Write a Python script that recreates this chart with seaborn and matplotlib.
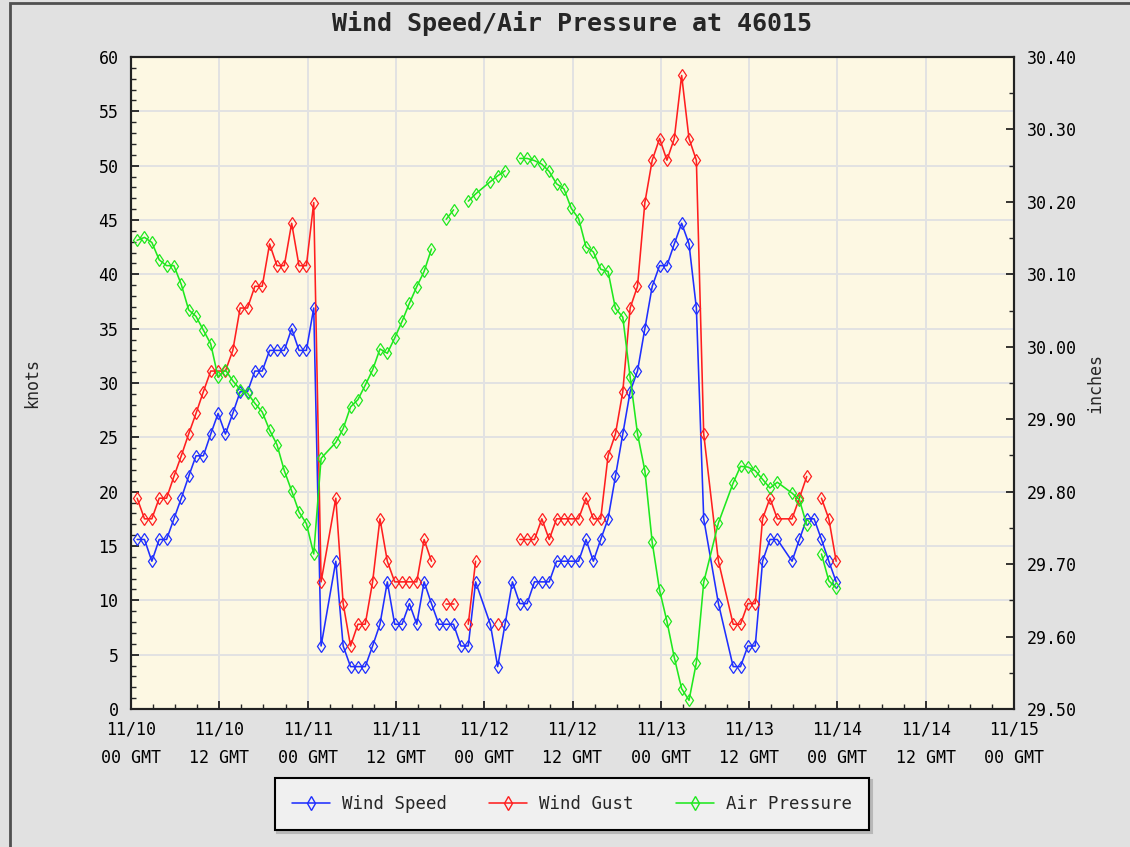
import numpy as np
import pandas as pd
import matplotlib
matplotlib.use("Agg")
import matplotlib.pyplot as plt
from matplotlib.ticker import MultipleLocator
from matplotlib.lines import Line2D
from matplotlib.patches import Rectangle
import seaborn as sns

NA = np.nan

# hourly obs from 11/10 00:50 GMT; rows that are NA in every column were never reported
wind_speed = [
    15.6, 15.6, 13.6, 15.6, 15.6, 17.5, 19.4, 21.4, 23.3, 23.3,
    25.3, 27.2, 25.3, 27.2, 29.2, 29.2, 31.1, 31.1, 33.0, 33.0,
    33.0, 35.0, 33.0, 33.0, 36.9, 5.8, NA, 13.6, 5.8, 3.9,
    3.9, 3.9, 5.8, 7.8, 11.7, 7.8, 7.8, 9.7, 7.8, 11.7,
    9.7, 7.8, 7.8, 7.8, 5.8, 5.8, 11.7, NA, 7.8, 3.9,
    7.8, 11.7, 9.7, 9.7, 11.7, 11.7, 11.7, 13.6, 13.6, 13.6,
    13.6, 15.6, 13.6, 15.6, 17.5, 21.4, 25.3, 29.2, 31.1, 35.0,
    38.9, 40.8, 40.8, 42.8, 44.7, 42.8, 36.9, 17.5, NA, 9.7,
    NA, 3.9, 3.9, 5.8, 5.8, 13.6, 15.6, 15.6, NA, 13.6,
    15.6, 17.5, 17.5, 15.6, 13.6, 11.7,
]
wind_gust = [
    19.4, 17.5, 17.5, 19.4, 19.4, 21.4, 23.3, 25.3, 27.2, 29.2,
    31.1, 31.1, 31.1, 33.0, 36.9, 36.9, 38.9, 38.9, 42.8, 40.8,
    40.8, 44.7, 40.8, 40.8, 46.6, 11.7, NA, 19.4, 9.7, 5.8,
    7.8, 7.8, 11.7, 17.5, 13.6, 11.7, 11.7, 11.7, 11.7, 15.6,
    13.6, NA, 9.7, 9.7, NA, 7.8, 13.6, NA, NA, 7.8,
    NA, NA, 15.6, 15.6, 15.6, 17.5, 15.6, 17.5, 17.5, 17.5,
    17.5, 19.4, 17.5, 17.5, 23.3, 25.3, 29.2, 36.9, 38.9, 46.6,
    50.5, 52.5, 50.5, 52.5, 58.3, 52.5, 50.5, 25.3, NA, 13.6,
    NA, 7.8, 7.8, 9.7, 9.7, 17.5, 19.4, 17.5, NA, 17.5,
    19.4, 21.4, NA, 19.4, 17.5, 13.6,
]
air_pressure = [
    30.147, 30.151, 30.144, 30.120, 30.112, 30.112, 30.086, 30.051, 30.042, 30.023,
    30.004, 29.958, 29.968, 29.953, 29.941, 29.936, 29.922, 29.910, 29.885, 29.865,
    29.829, 29.801, 29.772, 29.756, 29.714, 29.846, NA, 29.868, 29.887, 29.917,
    29.927, 29.947, 29.968, 29.997, 29.991, 30.012, 30.035, 30.060, 30.083, 30.104,
    30.135, NA, 30.176, 30.189, NA, 30.201, 30.211, NA, 30.228, 30.236,
    30.243, NA, 30.260, 30.260, 30.257, 30.252, 30.242, 30.225, 30.218, 30.191,
    30.177, 30.138, 30.131, 30.107, 30.104, 30.053, 30.041, 29.958, 29.880, 29.829,
    29.730, 29.664, 29.621, 29.571, 29.528, 29.512, 29.564, 29.675, NA, 29.757,
    NA, 29.812, 29.835, 29.834, 29.829, 29.817, 29.805, 29.813, NA, 29.798,
    29.789, 29.754, NA, 29.714, 29.677, 29.667,
]
tick_labels = ["11/10\n00 GMT", "11/10\n12 GMT", "11/11\n00 GMT", "11/11\n12 GMT",
               "11/12\n00 GMT", "11/12\n12 GMT", "11/13\n00 GMT", "11/13\n12 GMT",
               "11/14\n00 GMT", "11/14\n12 GMT", "11/15\n00 GMT"]

BLUE, RED, GREEN = "#1f2fff", "#ff1f1f", "#1fe81f"
FONT = "DejaVu Sans Mono"

df = pd.DataFrame({"hour": np.arange(len(wind_speed)) + 50 / 60,
                   "Wind Speed": wind_speed, "Wind Gust": wind_gust,
                   "Air Pressure": air_pressure})
df = df.dropna(how="all", subset=["Wind Speed", "Wind Gust", "Air Pressure"])

sns.set_style("white")
plt.rcParams["font.family"] = [FONT, "DejaVu Sans"]

W, H = 1130, 847
fig = plt.figure(figsize=(W / 100, H / 100), dpi=100)
fig.patch.set_facecolor("#e1e1e1")
fig.patches.append(Rectangle((10 / W, -0.01), 1.0, 1 - 3 / H + 0.01, transform=fig.transFigure,
                             fill=False, edgecolor="#505050", lw=2))

ax = fig.add_axes([131 / W, 1 - 709 / H, 883 / W, 652 / H])
ax.set_facecolor("#fdf8e3")
ax2 = ax.twinx()


def draw(axis, col, color):
    s = df[["hour", col]].copy()
    s["seg"] = s[col].isna().cumsum()  # break the line where a value is missing
    s = s.dropna()
    sns.lineplot(data=s, x="hour", y=col, units="seg", estimator=None, color=color,
                 lw=1.15, marker="d", ms=6, mfc="none", mec=color, mew=0.9,
                 legend=False, ax=axis)


draw(ax, "Wind Speed", BLUE)
draw(ax, "Wind Gust", RED)
draw(ax2, "Air Pressure", GREEN)

ax.set_xlim(0, 120)
ax.set_ylim(0, 60)
ax2.set_ylim(29.5, 30.4)

ax.set_xticks(np.arange(0, 121, 12))
ax.set_xticklabels(tick_labels, linespacing=1.75)
ax.xaxis.set_minor_locator(MultipleLocator(3))
ax.yaxis.set_major_locator(MultipleLocator(5))
ax.yaxis.set_minor_locator(MultipleLocator(1))
ax2.yaxis.set_major_locator(MultipleLocator(0.1))
ax2.yaxis.set_minor_locator(MultipleLocator(0.05))
ax2.set_yticklabels([f"{v:.2f}" for v in ax2.get_yticks()])

ax.grid(True, which="major", color="#e2e2e2", lw=1.4)
ax.set_axisbelow(True)

for a in (ax, ax2):
    a.tick_params(which="major", direction="in", length=5.5, width=1.1, labelsize=12,
                  colors="black", pad=9)
    a.tick_params(which="minor", direction="in", length=3.5, width=1.0)
    for sp in a.spines.values():
        sp.set_color("#222222")
        sp.set_linewidth(1.5)
ax.tick_params(axis="x", pad=8.5)
ax.tick_params(axis="y", left=True, which="both")
ax.tick_params(axis="x", bottom=True, which="both")
ax2.tick_params(axis="y", right=True, which="both")

ax.set_xlabel("")
ax.set_ylabel("knots", fontsize=12)
ax2.set_ylabel("inches", fontsize=12)
ax.yaxis.set_label_coords(-90 / 883, 0.5)
ax2.yaxis.set_label_coords(1 + 72 / 883, 0.5)

fig.text(572 / W, 1 - 24 / H, "Wind Speed/Air Pressure at 46015", ha="center", va="center",
         fontsize=18, fontweight="bold")

handles = [Line2D([], [], color=c, lw=1.15, marker="d", ms=7, mfc="none", mec=c)
           for c in (BLUE, RED, GREEN)]
leg = fig.legend(handles, ["Wind Speed", "Wind Gust", "Air Pressure"], ncol=3,
                 loc="center", bbox_to_anchor=(572 / W, 1 - 804 / H), fontsize=12.5,
                 frameon=True, fancybox=False, shadow={"color": "#b8b8b8", "alpha": 1},
                 borderpad=1.0, columnspacing=2.4, handlelength=2.2, handletextpad=0.7)
leg.get_frame().set_facecolor("#f0f0f0")
leg.get_frame().set_edgecolor("black")
leg.get_frame().set_linewidth(1.5)

fig.savefig("out.png", dpi=100, facecolor=fig.get_facecolor())
plt.close(fig)
